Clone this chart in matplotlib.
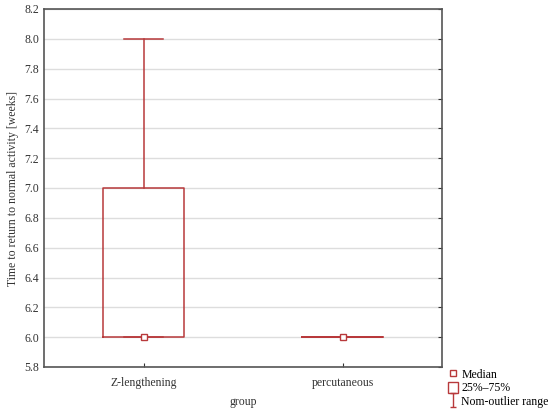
import matplotlib
matplotlib.use('Agg')
import matplotlib.pyplot as plt
from matplotlib.lines import Line2D
from matplotlib.patches import Patch
from matplotlib.path import Path

groups = ['Z-lengthening', 'percutaneous']
medians = [6.0, 6.0]
q1 = [6.0, 6.0]
q3 = [7.0, 6.0]
whisker_low = [6.0, 6.0]
whisker_high = [8.0, 6.0]

red = '#b8393b'
plt.rcParams['font.family'] = ['Liberation Serif', 'DejaVu Serif']

fig = plt.figure(figsize=(5.5, 4.11), dpi=100)
ax = fig.add_axes([44 / 550, 1 - 367 / 411, 398 / 550, 358 / 411])

stats = []
for i, g in enumerate(groups):
    stats.append({'label': g, 'med': medians[i], 'q1': q1[i], 'q3': q3[i],
                  'whislo': whisker_low[i], 'whishi': whisker_high[i], 'fliers': []})

pos = [1, 2]
ax.bxp(stats, positions=pos, widths=0.41, showfliers=False,
       boxprops=dict(color=red, linewidth=1.1),
       whiskerprops=dict(color=red, linewidth=1.1),
       capprops=dict(color=red, linewidth=1.1),
       medianprops=dict(linestyle='none'), capwidths=0.2)
ax.plot(pos, medians, linestyle='none', marker='s', markersize=4,
        markerfacecolor='white', markeredgecolor=red, markeredgewidth=1, zorder=5)

ax.set_xlim(0.5, 2.5)
ax.set_ylim(5.8, 8.2)
ax.set_yticks([5.8 + 0.2 * k for k in range(13)])
ax.yaxis.set_major_formatter(plt.FormatStrFormatter('%.1f'))
ax.set_xticks(pos)
ax.set_xticklabels(groups)
ax.grid(axis='y', color='#dddddd', linewidth=1)
ax.set_axisbelow(True)
ax.tick_params(direction='in', length=3, labelsize=8.5, colors='#333333', right=True)
ax.tick_params(axis='y', left=False)
ax.tick_params(axis='x', pad=7)
for s in ax.spines.values():
    s.set_color('#555555')
    s.set_linewidth(1.2)

ax.set_ylabel('Time to return to normal activity [weeks]', fontsize=8.5, color='#333333')
ax.set_xlabel('group', fontsize=8.5, color='#333333', labelpad=5)

i_shape = Path([(-0.5, 1), (0.5, 1), (0, 1), (0, -1), (-0.5, -1), (0.5, -1)],
               [Path.MOVETO, Path.LINETO, Path.MOVETO, Path.LINETO, Path.MOVETO, Path.LINETO])
handles = [
    Line2D([], [], linestyle='none', marker='s', markersize=4, markerfacecolor='white',
           markeredgecolor=red, markeredgewidth=1),
    Patch(facecolor='white', edgecolor=red, linewidth=1),
    Line2D([], [], linestyle='none', marker=i_shape, markersize=10, markerfacecolor='none',
           markeredgecolor=red, markeredgewidth=1),
]
labels = ['Median', '25%\u201375%', 'Nom-outlier range']
fig.legend(handles, labels, loc='upper left', bbox_to_anchor=(440 / 550, 1 - 360 / 411),
           frameon=False, fontsize=8.5, handlelength=0.8, handleheight=1.0,
           handletextpad=0.3, labelspacing=0.12, borderpad=0.2)

fig.savefig('out.png', dpi=100)
